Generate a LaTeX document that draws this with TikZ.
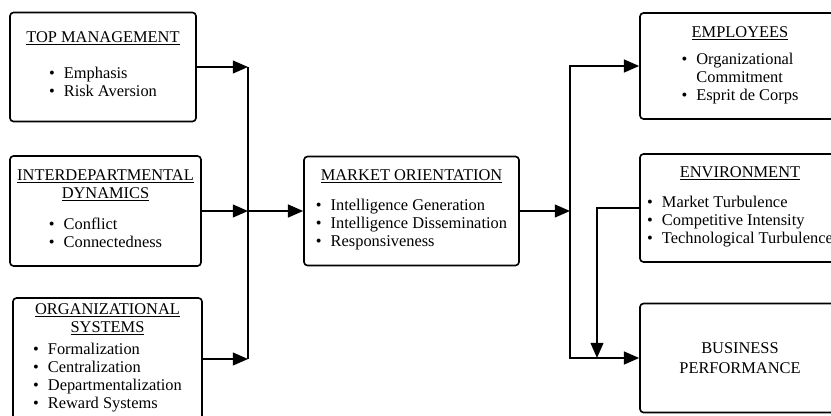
\documentclass[tikz,border=0pt]{standalone}
\usepackage{fontspec}
\setmainfont{Liberation Serif}
\usetikzlibrary{arrows.meta}
\newdimen\px
\px=0.03cm
\newcommand{\bul}{\makebox[0.9em][l]{\textbullet}}
\newcommand{\cont}{\makebox[0.9em][l]{}}

\begin{document}
\begin{tikzpicture}[x=0.03cm, y=-0.03cm,
    box/.style={draw, line width=1.4pt, rounded corners=3pt, align=center, inner sep=0pt,
        font=\fontsize{14}{15.4}\selectfont},
    arr/.style={line width=1.4pt, -{Triangle[length=13pt, width=11pt]}}]
                \useasboundingbox (0,0) rectangle (831,416);
                \clip (0,0) rectangle (831,416);
                \node[box, minimum width=186\px, minimum height=109\px] (top) at (103,67)
                    {\underline{TOP MANAGEMENT}\\[18\px]
                     \begin{tabular}[t]{@{}l@{}}\bul Emphasis\\ \bul Risk Aversion\end{tabular}};
                \node[box, minimum width=191\px, minimum height=110\px] (idd) at (105.5,211)
                    {\underline{INTERDEPARTMENTAL}\\ \underline{DYNAMICS}\\[13\px]
                     \begin{tabular}[t]{@{}l@{}}\bul Conflict\\ \bul Connectedness\end{tabular}};
                \node[box, minimum width=189\px, minimum height=122\px] (org) at (107.5,359)
                    {\underline{ORGANIZATIONAL}\\ \underline{SYSTEMS}\\[4\px]
                     \begin{tabular}[t]{@{}l@{}}\bul Formalization\\ \bul Centralization\\
                     \bul Departmentalization\\ \bul Reward Systems\end{tabular}};
                \node[box, minimum width=215\px, minimum height=109\px] (mo) at (411.5,211)
                    {\underline{MARKET ORIENTATION}\\[12\px]
                     \begin{tabular}[t]{@{}l@{}}\bul Intelligence Generation\\
                     \bul Intelligence Dissemination\\ \bul Responsiveness\end{tabular}};
                \node[box, minimum width=200\px, minimum height=106\px] (emp) at (740,66)
                    {\underline{EMPLOYEES}\\[9\px]
                     \begin{tabular}[t]{@{}l@{}}\bul Organizational\\ \cont Commitment\\
                     \bul Esprit de Corps\end{tabular}};
                \node[box, minimum width=200\px, minimum height=108\px] (env) at (740,208)
                    {\underline{ENVIRONMENT}\\[12\px]
                     \begin{tabular}[t]{@{}l@{}}\bul Market Turbulence\\
                     \bul Competitive Intensity\\ \bul Technological Turbulence\end{tabular}};
                \node[box, minimum width=200\px, minimum height=109\px] (bp) at (740,358)
                    {BUSINESS\\[2\px] PERFORMANCE};
                \coordinate (jl) at (248,211);
                \coordinate (jr) at (570,211);
                \coordinate (ej) at (597,358);
                \draw[line width=1.4pt] (top.east -| jl) -- (org.east -| jl);
                \draw[arr] (top.east) -- (top.east -| jl);
                \draw[arr] (idd.east) -- (jl);
                \draw[arr] (org.east) -- (org.east -| jl);
                \draw[arr] (jl) -- (mo.west);
                \draw[arr] (mo.east) -- (jr);
                \draw[arr] (jr) |- (emp.west);
                \draw[arr] (jr) |- (bp.west);
                \draw[arr] (env.west) -| (ej);
            \end{tikzpicture}
\end{document}
